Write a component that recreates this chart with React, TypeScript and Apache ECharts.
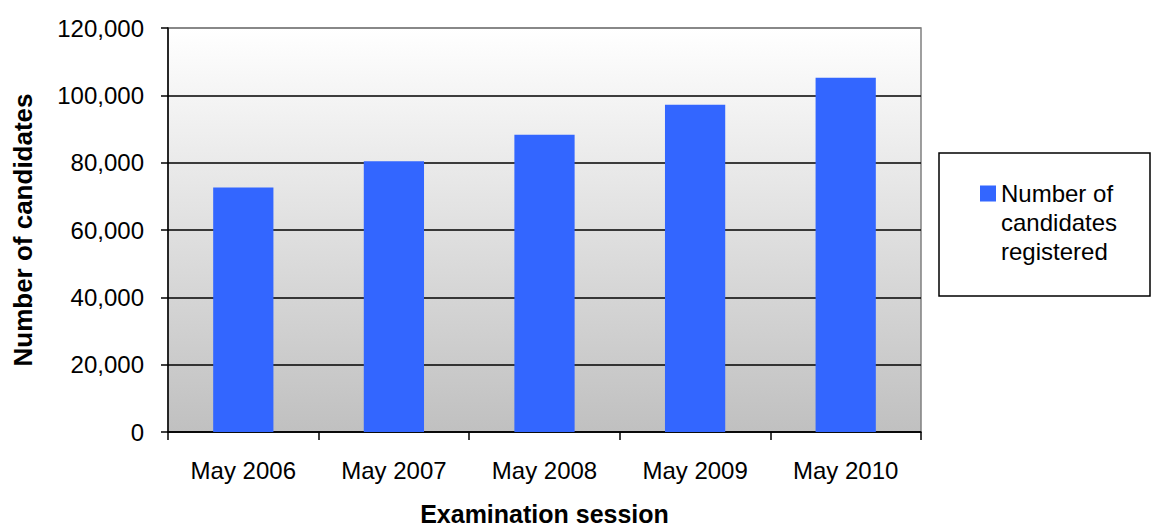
import React, { useEffect, useRef } from "react";
import * as echarts from "echarts";

const categories = ["May 2006", "May 2007", "May 2008", "May 2009", "May 2010"];
const candidates = [72600, 80400, 88300, 97200, 105200];
const seriesName = "Number of candidates registered";
const yTitle = "Number of candidates";
const xTitle = "Examination session";

const FONT = "'Liberation Sans', Arial, Helvetica, sans-serif";

export default function App() {
  const ref = useRef<HTMLDivElement>(null);
  useEffect(() => {
    if (!ref.current) return;
    const chart = echarts.init(ref.current, undefined, { renderer: "svg" });
    const gridColors = ["#000", "#000", "#000", "#000", "#000", "#000", "#808080"];
    chart.setOption({
      animation: false,
      backgroundColor: "#ffffff",
      textStyle: { fontFamily: FONT },
      grid: {
        left: 168,
        right: 230,
        top: 28,
        bottom: 95,
        containLabel: false,
        outerBoundsMode: "none",
        show: true,
        borderColor: "#808080",
        borderWidth: 1.5,
        backgroundColor: new echarts.graphic.LinearGradient(0, 0, 0, 1, [
          { offset: 0, color: "#ffffff" },
          { offset: 1, color: "#c0c0c0" },
        ]),
      },
      legend: {
        show: true,
        left: 980,
        top: 179,
        orient: "vertical",
        itemWidth: 16,
        itemHeight: 87,
        itemGap: 5,
        padding: 0,
        icon: "path://M0,0L0.01,0M0,6.5L16,6.5L16,22.5L0,22.5ZM0,87L0.01,87",
        formatter: () => "Number of\ncandidates\nregistered",
        textStyle: {
          fontFamily: FONT,
          fontSize: 24,
          color: "#000",
          lineHeight: 29,
        },
        data: [seriesName],
      },
      graphic: [
        {
          type: "rect",
          shape: { x: 939, y: 153, width: 211, height: 143 },
          style: { fill: "none", stroke: "#000", lineWidth: 1.5 },
          z: 100,
        },
      ],
      xAxis: {
        type: "category",
        data: categories,
        name: xTitle,
        nameLocation: "middle",
        nameGap: 69,
        nameTextStyle: { fontFamily: FONT, fontSize: 25, fontWeight: "bold", color: "#000" },
        axisLine: { show: true, lineStyle: { color: "#000", width: 1.5 } },
        axisTick: { show: true, length: 8, lineStyle: { color: "#000", width: 1.5 } },
        axisLabel: { fontFamily: FONT, fontSize: 24, color: "#000", margin: 26 },
        splitLine: { show: false },
      },
      yAxis: {
        type: "value",
        min: 0,
        max: 120000,
        interval: 20000,
        name: yTitle,
        nameLocation: "middle",
        nameGap: 132,
        nameRotate: 90,
        nameTextStyle: { fontFamily: FONT, fontSize: 26, fontWeight: "bold", color: "#000" },
        axisLine: { show: true, lineStyle: { color: "#000", width: 1.5 } },
        axisTick: { show: true, length: 7, lineStyle: { color: "#000", width: 1.5 } },
        axisLabel: {
          fontFamily: FONT,
          fontSize: 24,
          color: "#000",
          margin: 24,
          formatter: (v: number) => v.toLocaleString("en-US"),
        },
        splitLine: { show: true, lineStyle: { color: gridColors, width: 1.5 } },
      },
      series: [
        {
          name: seriesName,
          type: "bar",
          data: candidates,
          barWidth: "40%",
          itemStyle: { color: "#3366ff" },
        },
      ],
    });
    return () => chart.dispose();
  }, []);
  return <div ref={ref} style={{ width: 1151, height: 527, position: "absolute", left: 0, top: 0 }} />;
}
